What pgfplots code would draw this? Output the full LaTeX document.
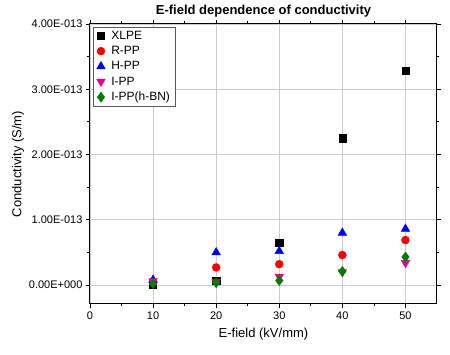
\documentclass[border=0pt]{standalone}
\usepackage{pgfplots}
\pgfplotsset{compat=1.18}
\usepackage{fontspec}
\setmainfont{Liberation Sans}
\setsansfont{Liberation Sans}
\definecolor{dgreen}{RGB}{0,128,0}
\begin{document}
\begin{tikzpicture}[x=1pt,y=1pt]
\begin{axis}[
  at={(0,0)}, anchor=south west,
  scale only axis, width=347pt, height=280pt,
  xmin=0, xmax=55, ymin=-0.29, ymax=4,
  xtick={0,10,20,30,40,50},
  ytick={0,1,2,3,4},
  yticklabels={0.00E+000,1.00E-013,2.00E-013,3.00E-013,4.00E-013},
  minor x tick num=1, minor y tick num=1,
  tick align=outside,
  major tick length=4pt, minor tick length=2.5pt,
  grid=major,
  major grid style={gray!40, line width=0.6pt},
  axis line style={line width=1pt},
  tick style={black, line width=0.8pt},
  /pgf/number format/assume math mode=true,
  tick label style={font=\fontsize{11}{13}\selectfont},
  title={\bfseries E-field dependence of conductivity},
  title style={font=\fontsize{13}{15}\selectfont, yshift=-3pt},
  xlabel={E-field (kV/mm)},
  ylabel={Conductivity (S/m)},
  label style={font=\fontsize{13}{15}\selectfont},
  xlabel style={yshift=-2pt},
  ylabel style={yshift=-2pt},
  legend style={at={(0.01,0.99)}, anchor=north west, draw=gray!70!black,
    font=\fontsize{12}{13}\selectfont, row sep=1.5pt, inner xsep=3pt, inner ysep=2pt,
    cells={anchor=west}},
  legend cell align=left,
  legend image code/.code={\draw[#1] plot coordinates {(0.45cm,0cm)};},
  clip=false,
]
\addplot[only marks, mark=square*, mark size=3.6pt, color=black] coordinates {
  (10,0.0) (20,0.07) (30,0.655) (40,2.25) (50,3.29)};
\addlegendentry{\hspace{4pt}XLPE}
\addplot[only marks, mark=*, mark size=4pt, color=red] coordinates {
  (10,0.04) (20,0.27) (30,0.32) (40,0.46) (50,0.69)};
\addlegendentry{\hspace{4pt}R-PP}
\addplot[only marks, mark=triangle*, mark size=5pt, color=blue] coordinates {
  (10,0.08) (20,0.50) (30,0.52) (40,0.80) (50,0.86)};
\addlegendentry{\hspace{4pt}H-PP}
\addplot[only marks, mark=triangle*, mark options={rotate=180}, mark size=5pt, color=magenta] coordinates {
  (10,0.06) (20,0.05) (30,0.13) (40,0.20) (50,0.34)};
\addlegendentry{\hspace{4pt}I-PP}
\addplot[only marks, mark=diamond*, mark size=5pt, color=dgreen] coordinates {
  (10,0.02) (20,0.035) (30,0.07) (40,0.21) (50,0.43)};
\addlegendentry{\hspace{4pt}I-PP(h-BN)}
\end{axis}
\pgfresetboundingbox
\path (-90,-51) rectangle (360,304);
\end{tikzpicture}
\end{document}
